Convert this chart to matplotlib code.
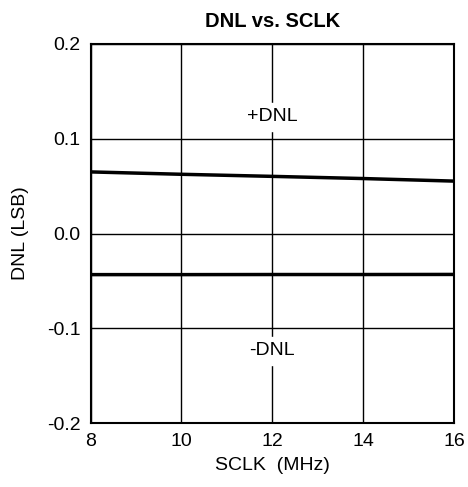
import matplotlib.pyplot as plt

plt.rcParams['font.family'] = ['Liberation Sans', 'DejaVu Sans']

# Data
sclk = [8, 10, 12, 14, 16]
dnl_pos = [0.065, 0.0625, 0.0603, 0.058, 0.0553]
dnl_neg = [-0.0434, -0.0434, -0.0433, -0.0433, -0.0432]

xticks = [8, 10, 12, 14, 16]
yticks = [-0.2, -0.1, 0.0, 0.1, 0.2]
ytick_labels = ['-0.2', '-0.1', '0.0', '0.1', '0.2']

fig = plt.figure(figsize=(4.68, 4.87), dpi=100)
ax = fig.add_axes([90.5 / 468, 1 - 423 / 487, 363.5 / 468, 379 / 487])

ax.plot(sclk, dnl_pos, color='black', linewidth=2.5, solid_capstyle='butt')
ax.plot(sclk, dnl_neg, color='black', linewidth=2.5, solid_capstyle='butt')

ax.set_xlim(8, 16)
ax.set_ylim(-0.2, 0.2)
ax.set_xticks(xticks)
ax.set_yticks(yticks)
ax.set_yticklabels(ytick_labels)
ax.tick_params(length=0, labelsize=14, pad=7)
ax.grid(True, color='black', linewidth=1.0)
for s in ax.spines.values():
    s.set_linewidth(1.5)

ax.text(12, 0.123, '+DNL', ha='center', va='center', fontsize=14,
        backgroundcolor='white')
ax.text(12, -0.124, '-DNL', ha='center', va='center', fontsize=14,
        backgroundcolor='white')

ax.set_title('DNL vs. SCLK', fontsize=14.5, fontweight='bold', pad=12)
ax.set_xlabel('SCLK  (MHz)', fontsize=14, labelpad=5)
ax.set_ylabel('DNL (LSB)', fontsize=14, labelpad=13)

fig.savefig('out.png', dpi=100)
